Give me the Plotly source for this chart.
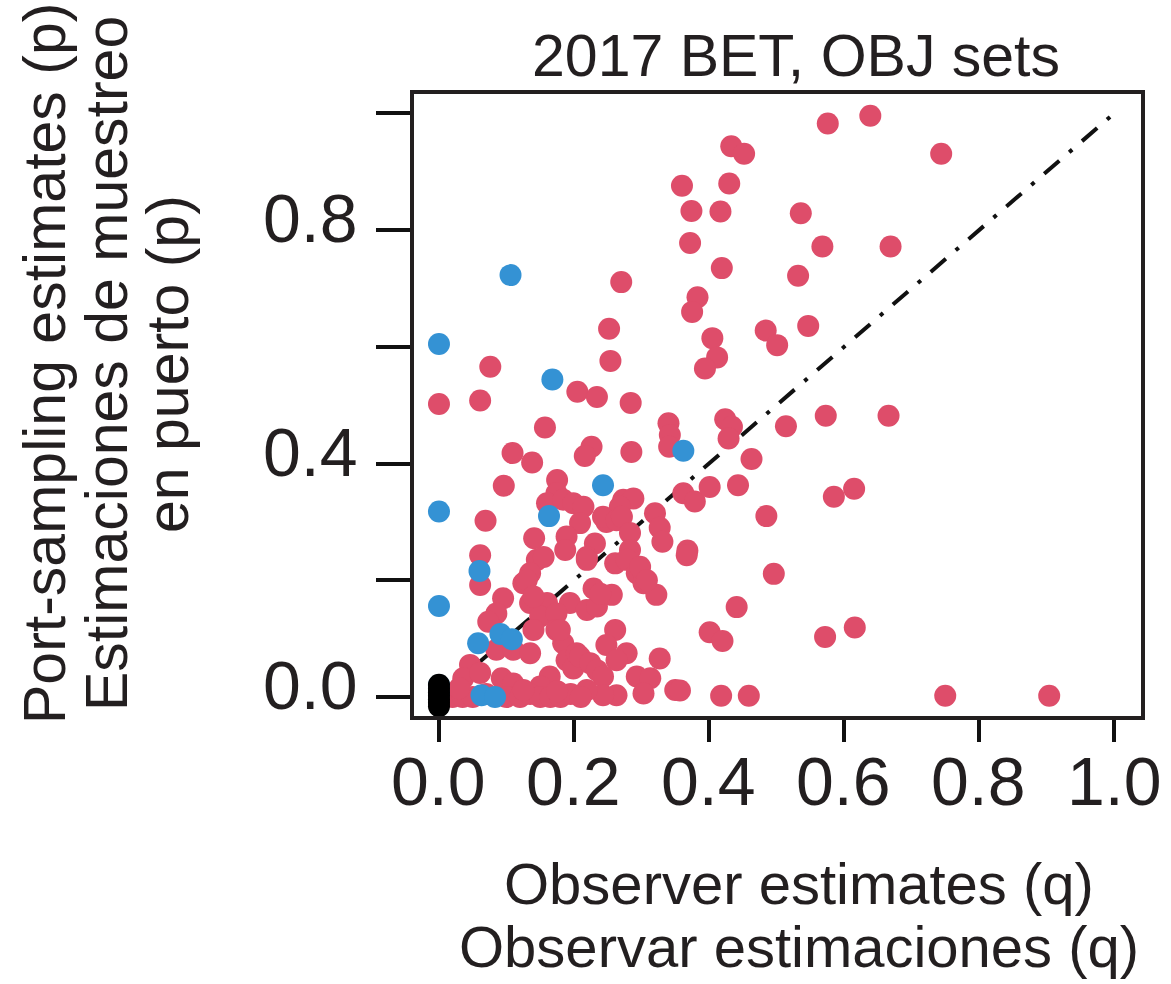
import plotly.graph_objects as go

# ---- data ----
red_x = [0.639, 0.576, 0.744, 0.433, 0.452, 0.360, 0.430, 0.374, 0.417, 0.536,
         0.372, 0.568, 0.669, 0.419, 0.532, 0.270, 0.383, 0.375, 0.547, 0.484,
         0.252, 0.501, 0.405, 0.412, 0.394, 0.254, 0.076,
         0.000, 0.061, 0.205, 0.234, 0.284,
         0.424, 0.434, 0.429, 0.573, 0.666, 0.514, 0.157, 0.340, 0.342, 0.341,
         0.463, 0.109, 0.138, 0.226, 0.216, 0.285,
         0.362, 0.379, 0.401, 0.443, 0.585, 0.615, 0.485, 0.096, 0.175, 0.174,
         0.160, 0.184, 0.199, 0.214, 0.209, 0.273, 0.288, 0.268, 0.248, 0.243,
         0.263, 0.271, 0.283, 0.320, 0.327, 0.331,
         0.368, 0.496, 0.441, 0.401, 0.420, 0.572, 0.616,
         0.069, 0.141, 0.189, 0.187, 0.231, 0.219, 0.283, 0.061, 0.061, 0.145,
         0.155, 0.135, 0.125, 0.130,
         0.219, 0.261, 0.278, 0.293, 0.303, 0.322, 0.298, 0.308, 0.367,
         0.095, 0.085, 0.073, 0.135, 0.160, 0.150, 0.140, 0.194, 0.219, 0.234,
         0.229, 0.256, 0.140, 0.174, 0.239,
         0.174, 0.184, 0.189, 0.199, 0.179, 0.204,
         0.085, 0.110, 0.135, 0.261, 0.248, 0.278, 0.263, 0.209, 0.224, 0.234,
         0.243, 0.327,
         0.046, 0.036, 0.061, 0.093, 0.110, 0.164, 0.150, 0.293, 0.313, 0.303,
         0.350, 0.263, 0.243, 0.219, 0.357,
         0.418, 0.459, 0.750, 0.904,
         0.020, 0.035, 0.050, 0.070, 0.100, 0.120, 0.135, 0.150, 0.165, 0.180,
         0.195, 0.210, 0.030, 0.125, 0.175]
red_y = [0.996, 0.983, 0.931, 0.944, 0.931, 0.876, 0.880, 0.833, 0.832, 0.829,
         0.778, 0.772, 0.772, 0.735, 0.722, 0.711, 0.685, 0.660, 0.636, 0.628,
         0.631, 0.603, 0.615, 0.582, 0.563, 0.576, 0.566,
         0.502, 0.508, 0.523, 0.514, 0.504,
         0.476, 0.463, 0.443, 0.482, 0.482, 0.464, 0.462, 0.469, 0.449, 0.429,
         0.408, 0.418, 0.402, 0.429, 0.413, 0.420,
         0.349, 0.335, 0.360, 0.363, 0.343, 0.357, 0.310, 0.362, 0.372, 0.349,
         0.332, 0.338, 0.332, 0.326, 0.298, 0.338, 0.340, 0.326, 0.300, 0.309,
         0.303, 0.309, 0.281, 0.315, 0.290, 0.266,
         0.251, 0.211, 0.154, 0.111, 0.096, 0.103, 0.119,
         0.302, 0.272, 0.275, 0.252, 0.263, 0.240, 0.252, 0.243, 0.192, 0.235,
         0.240, 0.212, 0.195, 0.200,
         0.235, 0.229, 0.235, 0.212, 0.195, 0.175, 0.223, 0.200, 0.243,
         0.169, 0.143, 0.129, 0.161, 0.161, 0.138, 0.115, 0.161, 0.149, 0.155,
         0.186, 0.175, 0.172, 0.143, 0.177,
         0.115, 0.092, 0.063, 0.049, 0.115, 0.075,
         0.081, 0.081, 0.075, 0.115, 0.089, 0.075, 0.063, 0.069, 0.058, 0.046,
         0.035, 0.066,
         0.055, 0.032, 0.041, 0.032, 0.023, 0.035, 0.018, 0.035, 0.032, 0.006,
         0.012, 0.003, 0.003, 0.012, 0.011,
         0.002, 0.002, 0.002, 0.002,
         0.000, 0.000, 0.000, 0.005, 0.000, 0.000, 0.005, 0.000, 0.000, 0.000,
         0.005, 0.000, 0.015, 0.012, 0.010]

blue_x = [0.106, 0.000, 0.168, 0.362, 0.243, 0.163, 0.000, 0.060, 0.000,
          0.091, 0.108, 0.058, 0.063, 0.083, 0.000, 0.000]
blue_y = [0.723, 0.605, 0.544, 0.422, 0.363, 0.310, 0.318, 0.216, 0.156,
          0.108, 0.099, 0.092, 0.003, 0.000, 0.020, 0.005]

black_x = [0.0, 0.0, 0.0, 0.0, 0.0, 0.0, 0.0]
black_y = [-0.016, -0.010, -0.004, 0.002, 0.008, 0.014, 0.021]

diag = [0.0, 1.0]

x_tickvals = [0.0, 0.2, 0.4, 0.6, 0.8, 1.0]
x_ticktext = ["0.0", "0.2", "0.4", "0.6", "0.8", "1.0"]
y_tickvals = [0.0, 0.2, 0.4, 0.6, 0.8, 1.0]
y_ticktext = ["0.0", "", "0.4", "", "0.8", ""]

title_text = "2017 BET, OBJ sets"
xtitle_lines = ["Observer estimates (q)", "Observar estimaciones (q)"]
ytitle_lines = ["Port-sampling estimates (p)", "Estimaciones de muestreo", "en puerto (p)"]

RED = "#DE4D6A"
BLUE = "#3492D4"
FONT = "Liberation Sans, Arial, sans-serif"
TXT = "#231F20"

W, H = 1171, 984
L, R, T, B = 414, 30, 94, 268

fig = go.Figure()
fig.add_trace(go.Scatter(x=diag, y=diag, mode="lines",
                         line=dict(color="#111111", width=4, dash="20px,13px,4px,13px"),
                         hoverinfo="skip", showlegend=False))
fig.add_trace(go.Scatter(x=red_x, y=red_y, mode="markers",
                         marker=dict(color=RED, size=22, line=dict(width=0)),
                         showlegend=False))
fig.add_trace(go.Scatter(x=blue_x, y=blue_y, mode="markers",
                         marker=dict(color=BLUE, size=22, line=dict(width=0)),
                         showlegend=False))
fig.add_trace(go.Scatter(x=black_x, y=black_y, mode="markers",
                         marker=dict(color="#000000", size=22, line=dict(width=0)),
                         showlegend=False))

pw = W - L - R
ph = H - T - B


def px2paper_x(px):
    return (px - L) / pw


def py2paper_y(py):
    return (H - B - py) / ph


ann = []
ann.append(dict(text=title_text, x=px2paper_x(796), y=py2paper_y(56),
                xref="paper", yref="paper", showarrow=False,
                xanchor="center", yanchor="middle",
                font=dict(family=FONT, size=59, color=TXT)))
for t, py in zip(xtitle_lines, [883, 946]):
    ann.append(dict(text=t, x=px2paper_x(799), y=py2paper_y(py),
                    xref="paper", yref="paper", showarrow=False,
                    xanchor="center", yanchor="middle",
                    font=dict(family=FONT, size=58, color=TXT)))
for t, px in zip(ytitle_lines, [45, 107, 168]):
    ann.append(dict(text=t, x=px2paper_x(px), y=py2paper_y(364),
                    xref="paper", yref="paper", showarrow=False,
                    textangle=-90, xanchor="center", yanchor="middle",
                    font=dict(family=FONT, size=59, color=TXT)))

# tick labels as annotations tied to the axes' own scales
for v, t in zip(x_tickvals, x_ticktext):
    ann.append(dict(text=t, x=v, xref="x", y=py2paper_y(781), yref="paper",
                    showarrow=False, xanchor="center", yanchor="middle",
                    font=dict(family=FONT, size=68, color=TXT)))
for v, t in zip(y_tickvals, y_ticktext):
    if t:
        ann.append(dict(text=t, y=v, yref="y", x=px2paper_x(360), xref="paper",
                        showarrow=False, xanchor="right", yanchor="middle",
                        yshift=12,
                        font=dict(family=FONT, size=68, color=TXT)))

fig.update_layout(
    width=W, height=H,
    margin=dict(l=L, r=R, t=T, b=B, pad=0),
    paper_bgcolor="white", plot_bgcolor="white",
    font=dict(family=FONT, color=TXT),
    annotations=ann,
    showlegend=False,
)
fig.update_xaxes(range=[-0.037, 1.040], tickvals=x_tickvals, showticklabels=False,
                 showgrid=False, zeroline=False, showline=True, mirror=True,
                 linecolor="#231F20", linewidth=4,
                 ticks="outside", ticklen=22, tickwidth=4, tickcolor="#111111")
fig.update_yaxes(range=[-0.0326, 1.0334], tickvals=y_tickvals, showticklabels=False,
                 showgrid=False, zeroline=False, showline=True, mirror=True,
                 linecolor="#231F20", linewidth=4,
                 ticks="outside", ticklen=34, tickwidth=4, tickcolor="#111111")

fig.write_html("out.html")
